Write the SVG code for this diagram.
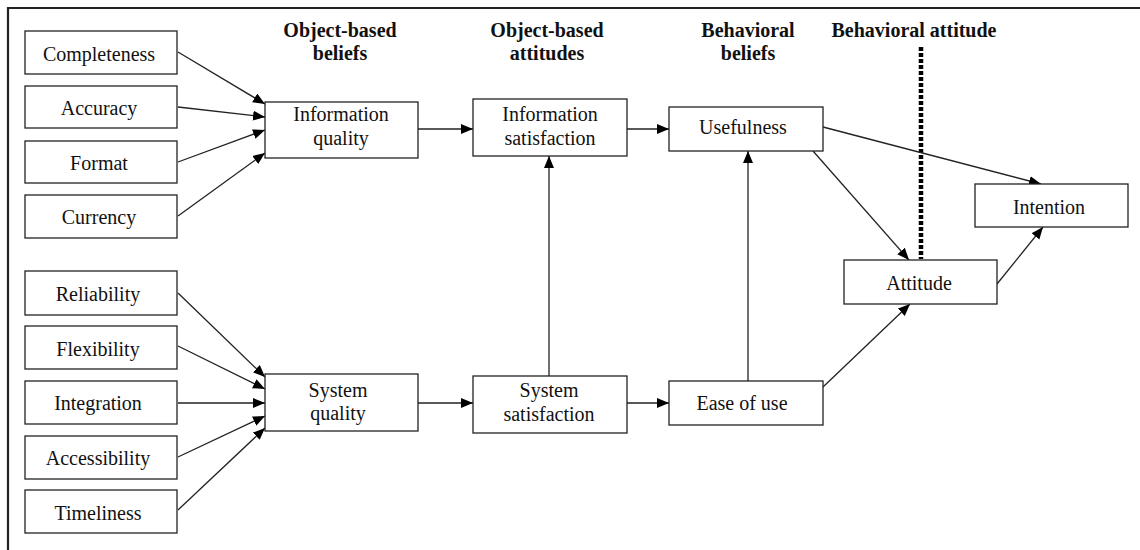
<svg xmlns="http://www.w3.org/2000/svg" width="1140" height="550" viewBox="0 0 1140 550">
  <style>
    .box { fill: #fff; stroke: #222; stroke-width: 1.3; }
    .lbl { font-family: "Liberation Serif", "Times New Roman", serif; font-size: 20px; fill: #111; text-anchor: middle; }
    .hdr { font-family: "Liberation Serif", "Times New Roman", serif; font-size: 20px; font-weight: bold; fill: #111; text-anchor: middle; }
    .edge { fill: none; stroke: #222; stroke-width: 1.3; marker-end: url(#arrow); }
  </style>
  <defs>
    <marker id="arrow" markerUnits="userSpaceOnUse" markerWidth="14" markerHeight="12" refX="12" refY="5" orient="auto">
      <path d="M0,0 L12,5 L0,10 z" fill="#000"/>
    </marker>
  </defs>
  <rect width="1140" height="550" fill="#fff"/>

  <!-- frame -->
  <path d="M8,550 V8 H1140" fill="none" stroke="#222" stroke-width="2.2"/>

  <!-- column headings -->
  <g id="headings">
    <text class="hdr" x="340" y="37">Object-based</text>
    <text class="hdr" x="340" y="60">beliefs</text>
    <text class="hdr" x="547" y="37">Object-based</text>
    <text class="hdr" x="547" y="60">attitudes</text>
    <text class="hdr" x="748" y="37">Behavioral</text>
    <text class="hdr" x="748" y="60">beliefs</text>
    <text class="hdr" x="914" y="37">Behavioral attitude</text>
  </g>

  <!-- divider -->
  <line x1="921" y1="47" x2="921" y2="259" stroke="#000" stroke-width="4.5" stroke-dasharray="4 2"/>

  <!-- connectors -->
  <g id="connectors">
    <line class="edge" x1="178" y1="52" x2="265" y2="104"/>
    <line class="edge" x1="178" y1="107" x2="265" y2="117"/>
    <line class="edge" x1="178" y1="162" x2="265" y2="130"/>
    <line class="edge" x1="178" y1="216" x2="265" y2="153"/>

    <line class="edge" x1="178" y1="293" x2="265" y2="377"/>
    <line class="edge" x1="178" y1="346" x2="265" y2="389"/>
    <line class="edge" x1="178" y1="403" x2="265" y2="403"/>
    <line class="edge" x1="178" y1="457" x2="265" y2="416"/>
    <line class="edge" x1="178" y1="510" x2="265" y2="428"/>

    <line class="edge" x1="418" y1="129" x2="473" y2="129"/>
    <line class="edge" x1="627" y1="129" x2="669" y2="129"/>
    <line class="edge" x1="418" y1="403" x2="473" y2="403"/>
    <line class="edge" x1="627" y1="403" x2="669" y2="403"/>

    <line class="edge" x1="549" y1="376" x2="549" y2="156"/>
    <line class="edge" x1="748" y1="381" x2="748" y2="151"/>

    <line class="edge" x1="823" y1="127" x2="1041" y2="184"/>
    <line class="edge" x1="813" y1="151" x2="909" y2="260"/>
    <line class="edge" x1="823" y1="387" x2="910" y2="304"/>
    <line class="edge" x1="997" y1="284" x2="1043" y2="227"/>
  </g>

  <!-- information quality dimensions -->
  <g id="completeness"><rect class="box" x="25" y="31" width="152" height="43"/><text class="lbl" x="99" y="61">Completeness</text></g>
  <g id="accuracy"><rect class="box" x="25" y="86" width="152" height="42"/><text class="lbl" x="99" y="115">Accuracy</text></g>
  <g id="format"><rect class="box" x="25" y="141" width="152" height="42"/><text class="lbl" x="99" y="170">Format</text></g>
  <g id="currency"><rect class="box" x="25" y="195" width="152" height="43"/><text class="lbl" x="99" y="224">Currency</text></g>

  <!-- system quality dimensions -->
  <g id="reliability"><rect class="box" x="25" y="271" width="152" height="44"/><text class="lbl" x="98" y="301">Reliability</text></g>
  <g id="flexibility"><rect class="box" x="25" y="326" width="152" height="43"/><text class="lbl" x="98" y="356">Flexibility</text></g>
  <g id="integration"><rect class="box" x="25" y="381" width="152" height="43"/><text class="lbl" x="98" y="410">Integration</text></g>
  <g id="accessibility"><rect class="box" x="25" y="436" width="152" height="43"/><text class="lbl" x="98" y="465">Accessibility</text></g>
  <g id="timeliness"><rect class="box" x="25" y="490" width="152" height="43"/><text class="lbl" x="98" y="520">Timeliness</text></g>

  <!-- object-based beliefs -->
  <g id="information-quality"><rect class="box" x="265" y="102" width="153" height="56"/><text class="lbl" x="341" y="121">Information</text><text class="lbl" x="341" y="145">quality</text></g>
  <g id="system-quality"><rect class="box" x="265" y="374" width="153" height="57"/><text class="lbl" x="338" y="397">System</text><text class="lbl" x="338" y="420">quality</text></g>

  <!-- object-based attitudes -->
  <g id="information-satisfaction"><rect class="box" x="473" y="99" width="154" height="57"/><text class="lbl" x="550" y="121">Information</text><text class="lbl" x="550" y="145">satisfaction</text></g>
  <g id="system-satisfaction"><rect class="box" x="473" y="376" width="154" height="57"/><text class="lbl" x="549" y="397">System</text><text class="lbl" x="549" y="421">satisfaction</text></g>

  <!-- behavioral beliefs -->
  <g id="usefulness"><rect class="box" x="669" y="107" width="154" height="44"/><text class="lbl" x="743" y="134">Usefulness</text></g>
  <g id="ease-of-use"><rect class="box" x="669" y="381" width="154" height="44"/><text class="lbl" x="742" y="410">Ease of use</text></g>

  <!-- behavioral attitude and intention -->
  <g id="attitude"><rect class="box" x="844" y="260" width="153" height="44"/><text class="lbl" x="919" y="290">Attitude</text></g>
  <g id="intention"><rect class="box" x="975" y="184" width="153" height="43"/><text class="lbl" x="1049" y="214">Intention</text></g>
</svg>
